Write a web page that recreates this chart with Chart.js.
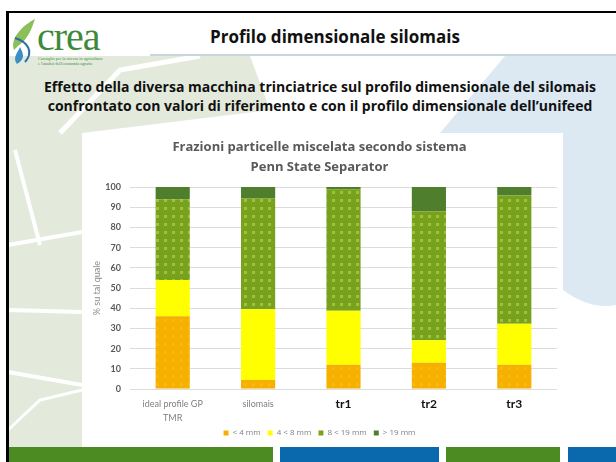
<!DOCTYPE html>
<html>
<head>
<meta charset="utf-8">
<script src="https://cdn.jsdelivr.net/npm/chart.js@4.4.1/dist/chart.umd.min.js"></script>
<style>
  body { margin: 0; background: #fff; font-family: "Open Sans", Lato, sans-serif; }
  #slide { position: relative; width: 616px; height: 462px; overflow: hidden; background: #fff; }
  #bg { position: absolute; left: 0; top: 0; }
  .hdr { position: absolute; left: 150px; width: 370px; top: 25px; text-align: center; font-weight: bold; font-size: 17px; color: #111; }
  .sub { position: absolute; left: 0; width: 640px; top: 77px; text-align: center; font-weight: bold; font-size: 14px; line-height: 19px; color: #111; }
  .logo { position: absolute; left: 37px; top: 17px; font-family: "Liberation Serif", serif; font-size: 40px; color: #3d8a3a; line-height: 40px; letter-spacing: -1px; }
  .logo-small { position: absolute; left: 38px; top: 56px; font-family: "Liberation Serif", serif; font-size: 4.3px; color: #3d8a3a; line-height: 5px; white-space: nowrap; }
  #box { position: absolute; left: 82px; top: 133px; width: 481px; height: 314px; background: #fff; }
</style>
</head>
<body>
<div id="slide">
  <svg id="bg" width="616" height="462">
    <!-- left green shapes -->
    <polygon points="8,56 250,56 270,110 82,133 82,447 8,447" fill="#e3eadc"/>
    <polyline points="8,245 82,232" stroke="#fff" stroke-width="4" fill="none"/>
    <polyline points="8,310 82,312" stroke="#fff" stroke-width="4" fill="none"/>
    <polyline points="8,372 82,385" stroke="#fff" stroke-width="4" fill="none"/>
    <polyline points="15,150 40,245" stroke="#fff" stroke-width="4" fill="none"/>
    <polyline points="8,430 40,400 82,390" stroke="#fff" stroke-width="3" fill="none"/>
    <polyline points="60,133 120,70 200,56" stroke="#fff" stroke-width="5" fill="none"/>
    <!-- right blue shape -->
    <path d="M505,56 L616,56 L616,305 Q590,310 563,290 L563,133 L440,133 Z" fill="#dce9f3"/>
    <!-- frame -->
    <rect x="6" y="11" width="610" height="2" fill="#000"/>
    <rect x="6" y="11" width="3" height="451" fill="#000"/>
    <rect x="9" y="13" width="607" height="42" fill="#fff"/>
    <rect x="150" y="54" width="466" height="2" fill="#c9d6de"/>
    <!-- logo leaf -->
    <path d="M14,50 C10,38 22,26 35,19 C31,31 27,40 18,46 Z" fill="#8bbf5a"/>
    <path d="M17,64 C12,58 18,52 20,47 C23,53 26,59 17,64 Z" fill="#3b8fc7"/>
    <path d="M15,38 C28,42 34,52 25,62" stroke="#2f6fa8" stroke-width="2" fill="none"/>
    <!-- bottom bars -->
    <rect x="9" y="447" width="264" height="15" fill="#4b8b22"/>
    <rect x="280" y="447" width="159" height="15" fill="#0a69ad"/>
    <rect x="446" y="447" width="114" height="15" fill="#4b8b22"/>
    <rect x="568" y="447" width="48" height="15" fill="#0a69ad"/>
  </svg>
  <div class="logo">crea</div>
  <div class="logo-small">Consiglio per la ricerca in agricoltura<br>e l'analisi dell'economia agraria</div>
  <div class="hdr">Profilo dimensionale silomais</div>
  <div class="sub">Effetto della diversa macchina trinciatrice sul profilo dimensionale del silomais<br>confrontato con valori di riferimento e con il profilo dimensionale dell’unifeed</div>
  <div id="box"><canvas id="myChart" width="481" height="314"></canvas></div>
</div>
<script>
var categories = [['ideal profile GP', 'TMR'], 'silomais', 'tr1', 'tr2', 'tr3'];
var series_names = ['< 4 mm', '4 < 8 mm', '8 < 19 mm', '> 19 mm'];
var lt4 = [36, 4.5, 12, 13, 12];
var r4to8 = [18, 35, 26.7, 11.2, 20.3];
var r8to19 = [40, 55, 60.2, 63.8, 63.5];
var gt19 = [6, 5.5, 1.1, 12, 4.2];
var y_ticks = [0, 10, 20, 30, 40, 50, 60, 70, 80, 90, 100];

var FONT = 'Lato, "Open Sans", sans-serif';
var TITLE_FONT = '"Open Sans", Lato, sans-serif';

function dotPattern(base, dot, size) {
    let c = document.createElement('canvas');
    c.width = size;
    c.height = size;
    let g = c.getContext('2d');
    g.fillStyle = base;
    g.fillRect(0, 0, size, size);
    g.fillStyle = dot;
    g.fillRect(2, 2, 3, 3);
    return g.createPattern(c, 'repeat');
}
var greenPat = dotPattern('#78a11d', '#9dc138', 8);
var orangePat = dotPattern('#f6b000', '#f8b80c', 8);

var ctx = document.getElementById('myChart');
var chart = new Chart(ctx, {
    type: 'bar',
    data: {
        labels: categories,
        datasets: [
            { label: series_names[0], data: lt4, backgroundColor: orangePat },
            { label: series_names[1], data: r4to8, backgroundColor: '#ffff00' },
            { label: series_names[2], data: r8to19, backgroundColor: greenPat },
            { label: series_names[3], data: gt19, backgroundColor: '#4f7f2d' }
        ]
    },
    options: {
        responsive: false,
        animation: false,
        layout: { padding: { left: 0, right: 6, top: 0, bottom: 0 } },
        datasets: { bar: { categoryPercentage: 0.4, barPercentage: 1.0, borderWidth: 0 } },
        scales: {
            x: {
                stacked: true,
                grid: { display: false, drawTicks: false },
                border: { display: false },
                ticks: {
                    padding: 8,
                    color: function (c) { return c.index >= 2 ? '#111' : '#7f7f7f'; },
                    font: function (c) {
                        return c.index >= 2
                            ? { family: FONT, size: 12, weight: 'bold', lineHeight: 1.2 }
                            : { family: FONT, size: 9, lineHeight: 1.55 };
                    }
                },
                afterFit: function (s) { s.height = 33; }
            },
            y: {
                stacked: true,
                min: 0,
                max: 100,
                grid: { color: '#dcdcdc', drawTicks: false },
                border: { display: false },
                afterBuildTicks: function (s) { s.ticks = y_ticks.map(function (v) { return { value: v }; }); },
                ticks: {
                    padding: 9,
                    color: '#595959',
                    font: { family: FONT, size: 9, weight: 'bold' }
                },
                title: {
                    display: true,
                    text: '% su tal quale',
                    color: '#8c8c8c',
                    font: { family: FONT, size: 9 },
                    padding: { top: 10, bottom: 0 }
                },
                afterFit: function (s) { s.width = 48; }
            }
        },
        plugins: {
            tooltip: { enabled: false },
            title: {
                display: true,
                text: ['Frazioni particelle miscelata secondo sistema', 'Penn State Separator'],
                color: '#595959',
                font: { family: TITLE_FONT, size: 13, weight: 'bold', lineHeight: 1.54 },
                padding: { top: 4, bottom: 10 }
            },
            legend: {
                position: 'bottom',
                labels: {
                    boxWidth: 5,
                    boxHeight: 5,
                    padding: 7,
                    color: '#7f7f7f',
                    font: { family: TITLE_FONT, size: 8 }
                }
            }
        }
    }
});
</script>
</body>
</html>
